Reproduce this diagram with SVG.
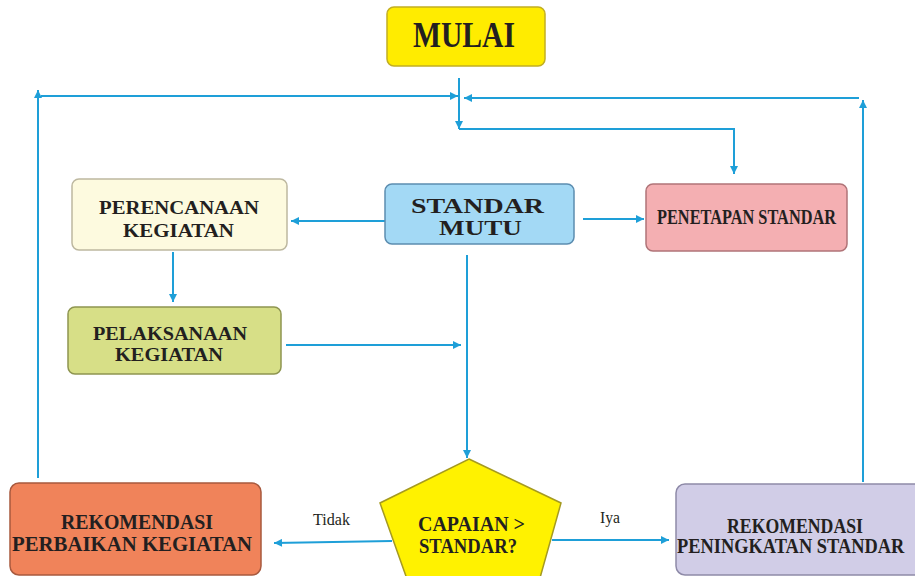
<svg xmlns="http://www.w3.org/2000/svg" width="915" height="576" viewBox="0 0 915 576">
<style>
.lbl{font-family:"Liberation Serif","Times New Roman",serif;font-weight:bold;fill:#231F20}
.sm{font-family:"Liberation Serif","Times New Roman",serif;font-weight:normal;fill:#231F20;font-size:16px}
.con{fill:none;stroke:#1E9FD8;stroke-width:2;marker-end:url(#ah)}
</style>
<defs>
<marker id="ah" viewBox="0 0 10 10" refX="10" refY="5" markerWidth="10" markerHeight="8" markerUnits="userSpaceOnUse" orient="auto">
<path d="M0,0 L10,5 L0,10 Z" fill="#1E9FD8"/>
</marker>
</defs>
<rect width="915" height="576" fill="#FFFFFF"/>
<g id="connectors">
<path class="con" d="M459,78 V129"/>
<path class="con" d="M459,129 H734 V174"/>
<path class="con" d="M38,478 V90"/>
<path class="con" d="M41,96 H458"/>
<path class="con" d="M863,482 V100"/>
<path class="con" d="M859,98 H464"/>
<path class="con" d="M385,221 H291"/>
<path class="con" d="M583,219 H644"/>
<path class="con" d="M173,252 V302"/>
<path class="con" d="M286,345 H461"/>
<path class="con" d="M467,255 V458"/>
<path class="con" d="M392,541 L274,543"/>
<path class="con" d="M552,540 H669"/>
</g>
<g id="mulai">
<rect x="387" y="7" width="158" height="59" rx="7" fill="#FFEC00" stroke="#C2AE22" stroke-width="1.5"/>
<text class="lbl" x="413" y="47" font-size="35" textLength="102" lengthAdjust="spacingAndGlyphs">MULAI</text>
</g>
<g id="perencanaan">
<rect x="72" y="179" width="215" height="71" rx="7" fill="#FDFADF" stroke="#BDB8A0" stroke-width="1.5"/>
<text class="lbl" x="99" y="214" font-size="19.5" textLength="160" lengthAdjust="spacingAndGlyphs">PERENCANAAN</text>
<text class="lbl" x="123" y="237" font-size="19.5" textLength="111" lengthAdjust="spacingAndGlyphs">KEGIATAN</text>
</g>
<g id="standar-mutu">
<rect x="385" y="184" width="189" height="60" rx="7" fill="#A3D9F5" stroke="#5C8DB0" stroke-width="1.5"/>
<text class="lbl" x="411" y="213" font-size="21" textLength="133" lengthAdjust="spacingAndGlyphs">STANDAR</text>
<text class="lbl" x="439" y="235" font-size="21" textLength="83" lengthAdjust="spacingAndGlyphs">MUTU</text>
</g>
<g id="penetapan">
<rect x="646" y="184" width="201" height="67" rx="7" fill="#F4AFB2" stroke="#B07478" stroke-width="1.5"/>
<text class="lbl" x="657" y="224" font-size="20" textLength="179" lengthAdjust="spacingAndGlyphs">PENETAPAN STANDAR</text>
</g>
<g id="pelaksanaan">
<rect x="68" y="307" width="213" height="67" rx="7" fill="#D7DF87" stroke="#8E9550" stroke-width="1.5"/>
<text class="lbl" x="93" y="340" font-size="19.5" textLength="154" lengthAdjust="spacingAndGlyphs">PELAKSANAAN</text>
<text class="lbl" x="115" y="361" font-size="19.5" textLength="108" lengthAdjust="spacingAndGlyphs">KEGIATAN</text>
</g>
<g id="capaian">
<polygon points="469,459 561,503 531,610 418,610 380,503" fill="#FFF200" stroke="#A59A20" stroke-width="1.5"/>
<text class="lbl" x="418" y="531" font-size="20" textLength="107" lengthAdjust="spacingAndGlyphs">CAPAIAN &gt;</text>
<text class="lbl" x="419" y="553" font-size="20" textLength="98" lengthAdjust="spacingAndGlyphs">STANDAR?</text>
</g>
<g id="perbaikan">
<rect x="10" y="483" width="251" height="92" rx="9" fill="#F0835A" stroke="#A8593E" stroke-width="1.5"/>
<text class="lbl" x="61" y="529" font-size="20" textLength="152" lengthAdjust="spacingAndGlyphs">REKOMENDASI</text>
<text class="lbl" x="12" y="551" font-size="20" textLength="240" lengthAdjust="spacingAndGlyphs">PERBAIKAN  KEGIATAN</text>
</g>
<g id="peningkatan">
<rect x="676" y="484" width="250" height="91" rx="9" fill="#D1CDE7" stroke="#8E8AA8" stroke-width="1.5"/>
<text class="lbl" x="727" y="533" font-size="20" textLength="136" lengthAdjust="spacingAndGlyphs">REKOMENDASI</text>
<text class="lbl" transform="translate(677,553) scale(0.92,1)" x="0" y="0" font-size="20">PENINGKATAN STANDAR</text>
</g>
<g id="labels">
<text class="sm" x="313" y="525" textLength="37" lengthAdjust="spacingAndGlyphs">Tidak</text>
<text class="sm" x="600" y="523" textLength="20" lengthAdjust="spacingAndGlyphs">Iya</text>
</g>
</svg>
